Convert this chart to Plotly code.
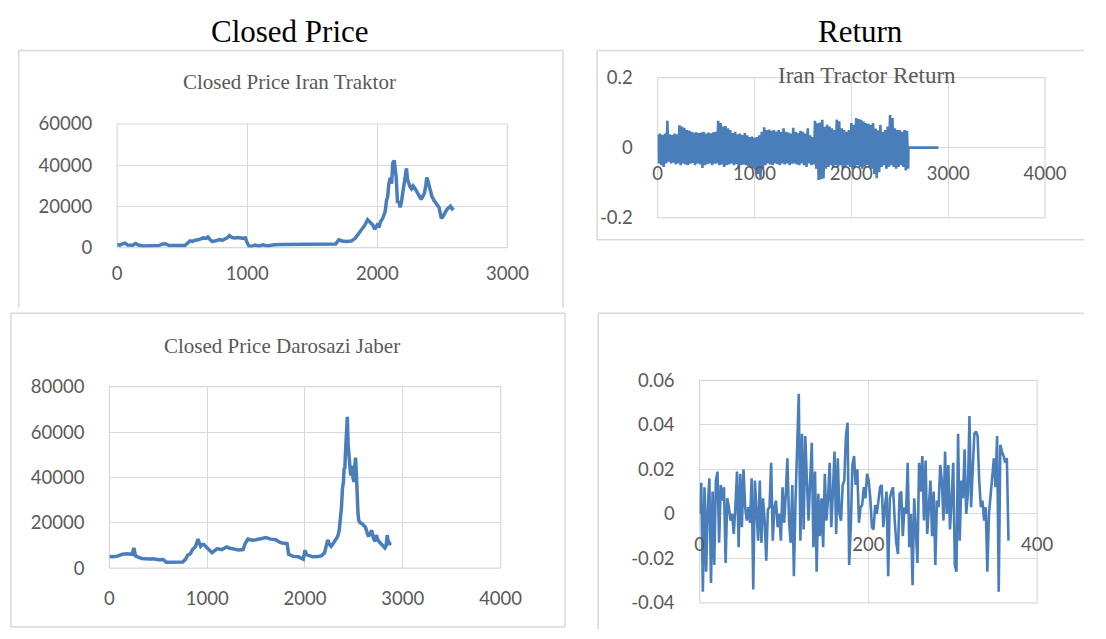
import plotly.graph_objects as go

# ---------------- data ----------------
# Closed price Iran Traktor (day index, price)
tr_days = [0, 20, 40, 60, 80, 100, 120, 140, 170, 200,
           240, 280, 320, 350, 370, 400, 440, 480, 520, 547,
           560, 580, 600, 630, 660, 684, 697, 710, 730, 750,
           771, 790, 808, 830, 846, 863, 880, 900, 930, 960,
           985, 995, 1012, 1030, 1060, 1090, 1120, 1150, 1182, 1210,
           1260, 1320, 1400, 1500, 1600, 1680, 1704, 1730, 1760, 1800,
           1830, 1853, 1870, 1888, 1905, 1925, 1950, 1965, 1980, 2000,
           2015, 2025, 2040, 2050, 2060, 2070, 2080, 2088, 2100, 2110,
           2118, 2130, 2138, 2145, 2155, 2165, 2175, 2185, 2195, 2208,
           2216, 2224, 2232, 2241, 2252, 2262, 2275, 2287, 2300, 2312,
           2325, 2337, 2350, 2362, 2372, 2380, 2390, 2399, 2410, 2419,
           2435, 2449, 2462, 2474, 2484, 2492, 2502, 2512, 2525, 2537,
           2550, 2562, 2575, 2587]
tr_price = [1500, 1200, 1800, 2200, 1300, 1400, 1200, 2000, 1100, 800,
            900, 800, 1000, 1800, 1900, 1000, 900, 1100, 1000, 2500,
            3300, 3000, 3600, 3900, 4700, 4500, 5200, 4200, 3000, 3200,
            3800, 3900, 3500, 4200, 4700, 5800, 5000, 4700, 4900, 4500,
            4700, 3000, 800, 600, 1200, 700, 1300, 800, 1300, 1400,
            1500, 1600, 1600, 1600, 1700, 1800, 3800, 3200, 3000, 3200,
            4500, 6500, 8000, 9700, 11000, 13500, 12000, 11000, 8900, 11000,
            10500, 12700, 14000, 16500, 17500, 22600, 25000, 30900, 34000, 31000,
            40800, 42300, 38000, 34000, 21800, 22500, 19500, 22000, 26400, 32400,
            35000, 38500, 33000, 30900, 29500, 28600, 30000, 29000, 27500, 26400,
            25000, 23400, 25000, 26400, 30000, 34000, 32000, 29700, 27000, 24900,
            23000, 21800, 21000, 19500, 16500, 14200, 14800, 15700, 17500, 18700,
            19200, 20100, 18800, 19500]

# Closed price Darosazi Jaber (day index, price)
dj_days = [0, 40, 80, 133, 180, 233, 250, 267, 300, 333,
           400, 450, 500, 550, 583, 650, 700, 750, 780, 800,
           830, 850, 880, 907, 920, 933, 950, 967, 985, 1000,
           1030, 1050, 1100, 1150, 1200, 1230, 1267, 1320, 1367, 1390,
           1417, 1460, 1500, 1550, 1600, 1650, 1700, 1740, 1767, 1817,
           1833, 1880, 1933, 1983, 2000, 2015, 2033, 2080, 2133, 2170,
           2200, 2233, 2250, 2267, 2290, 2317, 2335, 2350, 2363, 2373,
           2383, 2393, 2400, 2407, 2413, 2420, 2427, 2433, 2440, 2450,
           2458, 2467, 2475, 2483, 2490, 2500, 2508, 2517, 2525, 2533,
           2542, 2550, 2565, 2583, 2600, 2617, 2633, 2650, 2667, 2683,
           2700, 2717, 2730, 2740, 2760, 2783, 2800, 2817, 2830, 2840,
           2850, 2860, 2872, 2883]
dj_price = [5100, 5000, 5300, 6100, 6300, 6100, 8900, 5400, 4800, 4300,
            4000, 4100, 3700, 3800, 2600, 2500, 2550, 2700, 4000, 5700,
            6500, 8200, 9500, 12800, 11000, 9600, 10400, 10400, 9500, 8900,
            7500, 6800, 8500, 8200, 9400, 8800, 8500, 8000, 8200, 11000,
            12800, 12300, 12500, 13000, 13500, 12800, 12500, 11500, 11100, 10800,
            6100, 5200, 5000, 4000, 7900, 6000, 5700, 5000, 5100, 5500,
            6800, 12500, 10500, 9600, 11000, 12500, 14000, 16700, 22000, 26700,
            35000, 38000, 44000, 43700, 50000, 57900, 62000, 66700, 55000, 47900,
            42000, 40800, 45000, 43700, 40000, 38000, 44000, 48700, 42000, 30900,
            24000, 21000, 20000, 19600, 19000, 18200, 16000, 13900, 15500, 16700,
            13000, 11800, 14600, 13000, 11500, 10400, 9500, 8900, 10000, 14600,
            12000, 10400, 11000, 11100]

# Iran Tractor return: alternating highs and lows every 25 days, then a flat tail
tr_ret_step = 25
tr_ret_hi = [0.038, 0.040, 0.036, 0.040, 0.077, 0.038, 0.036, 0.040, 0.038, 0.064,
             0.060, 0.057, 0.050, 0.049, 0.045, 0.043, 0.044, 0.042, 0.043, 0.045,
             0.040, 0.043, 0.041, 0.044, 0.045, 0.077, 0.070, 0.060, 0.062, 0.055,
             0.050, 0.042, 0.045, 0.038, 0.040, 0.036, 0.042, 0.035, 0.030, 0.032,
             0.028, 0.030, 0.035, 0.045, 0.058, 0.050, 0.052, 0.048, 0.050, 0.046,
             0.050, 0.045, 0.055, 0.045, 0.043, 0.040, 0.057, 0.045, 0.042, 0.048,
             0.045, 0.040, 0.055, 0.035, 0.030, 0.077, 0.070, 0.072, 0.080, 0.060,
             0.065, 0.060, 0.055, 0.050, 0.080, 0.075, 0.055, 0.050, 0.045, 0.050,
             0.070, 0.065, 0.085, 0.082, 0.080, 0.075, 0.070, 0.068, 0.065, 0.070,
             0.055, 0.050, 0.065, 0.045, 0.050, 0.060, 0.093, 0.085, 0.055, 0.050,
             0.050, 0.045, 0.050, 0.048]
tr_ret_lo = [-0.045, -0.050, -0.055, -0.045, -0.040, -0.045, -0.043, -0.048, -0.045, -0.050,
             -0.045, -0.048, -0.050, -0.046, -0.044, -0.050, -0.045, -0.048, -0.058, -0.050,
             -0.047, -0.045, -0.050, -0.046, -0.045, -0.050, -0.048, -0.055, -0.050, -0.048,
             -0.045, -0.050, -0.047, -0.055, -0.050, -0.048, -0.050, -0.052, -0.055, -0.060,
             -0.065, -0.075, -0.087, -0.060, -0.050, -0.045, -0.048, -0.050, -0.045, -0.047,
             -0.050, -0.045, -0.048, -0.045, -0.050, -0.046, -0.045, -0.048, -0.050, -0.045,
             -0.050, -0.055, -0.045, -0.050, -0.048, -0.060, -0.092, -0.090, -0.088, -0.060,
             -0.055, -0.050, -0.055, -0.050, -0.055, -0.050, -0.060, -0.055, -0.050, -0.055,
             -0.060, -0.055, -0.050, -0.055, -0.060, -0.055, -0.050, -0.055, -0.060, -0.075,
             -0.087, -0.070, -0.055, -0.050, -0.060, -0.055, -0.050, -0.055, -0.060, -0.055,
             -0.050, -0.055, -0.065, -0.060]
tr_ret_tail_days = [2590, 2900]
tr_ret_tail = [0.0, 0.0]

# Darosazi Jaber return (roughly daily, 0..366)
dj_ret_last_day = 366
dj_ret = [0, 0.014, -0.035, 0.012, -0.026, 0.003, 0.016, -0.031, 0.010, -0.023,
          0.015, 0.019, -0.013, 0.013, 0.006, 0.012, -0.022, 0.007, 0.003, -0.003,
          0, -0.009, 0.003, 0.019, -0.015, 0.018, -0.006, 0.020, 0.003, -0.003,
          0.003, -0.004, 0.016, -0.034, 0.015, 0, -0.012, 0.015, -0.013, 0.007,
          -0.003, -0.021, 0.002, 0.003, 0.023, -0.012, 0.003, 0.006, -0.006, 0,
          -0.012, 0.012, -0.004, 0.009, 0.025, -0.003, -0.013, 0.013, -0.028, 0.006,
          0.029, 0.054, -0.012, 0.036, -0.007, 0.035, 0.015, -0.003, 0.015, 0.032,
          -0.015, 0.019, -0.026, 0.009, -0.010, 0.007, -0.015, 0.018, -0.003, 0.007,
          0.023, -0.006, 0.010, 0.028, -0.009, 0.025, 0, -0.003, 0.013, 0.015,
          0.035, 0.041, -0.023, -0.006, 0.022, 0.026, 0.013, 0.020, -0.004, 0.003,
          0.004, 0.012,
          0.007, 0.018, 0.015, 0.007, -0.006, -0.007, 0.004, 0, 0.006, 0.012,
          0.013, -0.006, 0.003, 0.010, -0.028, 0.007, 0.010, 0.012, -0.003, -0.013,
          -0.018, 0.009, 0.010, -0.010, 0.003, 0, 0.023, -0.015, 0, -0.032,
          0.007, -0.007, -0.022, 0.023, 0.010, 0.026, -0.003, 0.024, -0.009, 0.003,
          0.015, -0.010, 0.010, -0.023, 0.006, 0.003, 0.022, 0.015, -0.003, 0.028,
          0, 0.022, -0.007, 0.006, 0.023, -0.023, -0.026, 0.036, -0.012, 0.015,
          0.007, 0.029, 0, 0.009, 0.044, 0.003, 0.020, 0.036, 0.037, 0.035,
          0.015, 0.003, 0.006, -0.003, 0.003, -0.026, 0, 0.009, 0.016, 0.025,
          0.012, 0.035, -0.035, 0.031, 0.028, 0.026, 0.023, 0.025, -0.012]

# tick labels
p1_xticks = [0, 1000, 2000, 3000]
p1_yticks = [0, 20000, 40000, 60000]
p2_xticks = [0, 1000, 2000, 3000, 4000]
p2_yticks = [-0.2, 0, 0.2]
p2_ytext = ["-0.2", "0", "0.2"]
p3_xticks = [0, 1000, 2000, 3000, 4000]
p3_yticks = [0, 20000, 40000, 60000, 80000]
p4_xticks = [0, 200, 400]
p4_yticks = [-0.04, -0.02, 0, 0.02, 0.04, 0.06]
p4_ytext = ["-0.04", "-0.02", "0", "0.02", "0.04", "0.06"]

# ---------------- build series ----------------
tr_ret_days, tr_ret_vals = [], []
for i, (h, l) in enumerate(zip(tr_ret_hi, tr_ret_lo)):
    d = i * tr_ret_step
    tr_ret_days += [d, d + tr_ret_step / 2]
    tr_ret_vals += [h, l]
tr_ret_days += tr_ret_tail_days
tr_ret_vals += tr_ret_tail

n = len(dj_ret)
dj_ret_days = [i * dj_ret_last_day / (n - 1) for i in range(n)]

# ---------------- layout helpers ----------------
W, H = 1106, 639
def fx(p):
    return p / W
def fy(p):
    return 1 - p / H

BLUE = "#4a7ebb"
GRID = "#d9d9d9"
TXT = "#595959"
TICKFONT = dict(family="Lato", size=18.5, color=TXT)
SERIF = "Liberation Serif"

fig = go.Figure()
fig.add_trace(go.Scatter(x=tr_days, y=tr_price, mode="lines",
                         line=dict(color=BLUE, width=3.5), xaxis="x", yaxis="y"))
fig.add_trace(go.Scatter(x=tr_ret_days, y=tr_ret_vals, mode="lines",
                         line=dict(color=BLUE, width=2.6), xaxis="x2", yaxis="y2"))
fig.add_trace(go.Scatter(x=dj_days, y=dj_price, mode="lines",
                         line=dict(color=BLUE, width=3.5), xaxis="x3", yaxis="y3"))
fig.add_trace(go.Scatter(x=dj_ret_days, y=dj_ret, mode="lines",
                         line=dict(color=BLUE, width=2.6), xaxis="x4", yaxis="y4"))

common_x = dict(showgrid=True, gridcolor=GRID, gridwidth=1, zeroline=False,
                showline=False, ticks="", tickfont=TICKFONT, ticklabelstandoff=15,
                fixedrange=True)
common_y = dict(showgrid=True, gridcolor=GRID, gridwidth=1, zeroline=False,
                showline=False, ticks="", tickfont=TICKFONT, ticklabelstandoff=24,
                fixedrange=True)

# panel domains in pixels
P1 = dict(x0=115, x1=515, y0=116, y1=244)
P2 = dict(x0=669, x1=1066, y0=68, y1=213, zero=140.5)
P3 = dict(x0=107, x1=508, y0=388, y1=576)
P4 = dict(x0=712, x1=1058, y0=381.5, y1=612, zero=519.8)

fig.update_layout(
    width=W, height=H, margin=dict(l=0, r=0, t=0, b=0),
    paper_bgcolor="white", plot_bgcolor="white", showlegend=False,
    hovermode=False,
    xaxis=dict(common_x, domain=[fx(P1["x0"]), fx(P1["x1"])], range=[0, 3000],
               tickvals=p1_xticks, ticktext=[str(v) for v in p1_xticks], anchor="y",
               ticklabelstandoff=13),
    yaxis=dict(common_y, domain=[fy(P1["y1"]), fy(P1["y0"])], range=[0, 60000],
               tickvals=p1_yticks, ticktext=[str(v) for v in p1_yticks], anchor="x"),
    xaxis2=dict(common_x, domain=[fx(P2["x0"]), fx(P2["x1"])], range=[0, 4000],
                tickvals=p2_xticks, ticktext=[str(v) for v in p2_xticks],
                anchor="free", position=fy(P2["zero"]), ticklabelstandoff=13),
    yaxis2=dict(common_y, domain=[fy(P2["y1"]), fy(P2["y0"])], range=[-0.2, 0.2],
                tickvals=p2_yticks, ticktext=p2_ytext, anchor="x2"),
    xaxis3=dict(common_x, domain=[fx(P3["x0"]), fx(P3["x1"])], range=[0, 4000],
                tickvals=p3_xticks, ticktext=[str(v) for v in p3_xticks], anchor="y3",
                ticklabelstandoff=17),
    yaxis3=dict(common_y, domain=[fy(P3["y1"]), fy(P3["y0"])], range=[0, 80000],
                tickvals=p3_yticks, ticktext=[str(v) for v in p3_yticks], anchor="x3"),
    xaxis4=dict(common_x, domain=[fx(P4["x0"]), fx(P4["x1"])], range=[0, 400],
                tickvals=p4_xticks, ticktext=[str(v) for v in p4_xticks],
                anchor="free", position=fy(P4["zero"]), ticklabelstandoff=18),
    yaxis4=dict(common_y, domain=[fy(P4["y1"]), fy(P4["y0"])], range=[-0.04, 0.06],
                tickvals=p4_yticks, ticktext=p4_ytext, anchor="x4"),
)

shapes = []
# plot-area frames (edges of the grid)
for xa, ya in [("x", "y"), ("x2", "y2"), ("x3", "y3"), ("x4", "y4")]:
    shapes.append(dict(type="rect", xref=f"{xa} domain", yref=f"{ya} domain",
                       x0=0, x1=1, y0=0, y1=1, line=dict(color=GRID, width=1.2),
                       layer="below"))
# chart boxes
BOX = dict(color="#d9d9d9", width=1.5)
def hline(x0, x1, y):
    shapes.append(dict(type="line", xref="paper", yref="paper", x0=fx(x0), x1=fx(x1),
                       y0=fy(y), y1=fy(y), line=BOX))
def vline(x, y0, y1):
    shapes.append(dict(type="line", xref="paper", yref="paper", x0=fx(x), x1=fx(x),
                       y0=fy(y0), y1=fy(y1), line=BOX))
# top-left box
hline(14, 572, 40); vline(14, 40, 306); vline(572, 40, 306)
# top-right box
hline(607, 1106, 40); vline(607, 40, 236); hline(607, 1106, 236)
# bottom-left box
hline(6, 574, 312); vline(6, 312, 637); vline(574, 312, 637); hline(6, 574, 637)
# bottom-right box
hline(608, 1106, 312); vline(608, 312, 639)
fig.update_layout(shapes=shapes)

ann = []
def text(t, x, y, size, color, family=SERIF):
    ann.append(dict(text=t, x=fx(x), y=fy(y), xref="paper", yref="paper",
                    xanchor="center", yanchor="middle", showarrow=False,
                    font=dict(family=family, size=size, color=color)))
text("Closed Price", 292, 20, 31, "#000000")
text("Return", 877, 20, 31, "#000000")
text("Closed Price Iran Traktor", 292, 72, 21, TXT)
text("Iran Tractor Return", 884, 66, 23, TXT)
text("Closed Price Darosazi Jaber", 284, 346, 21, TXT)
fig.update_layout(annotations=ann)

fig.write_html("out.html")
